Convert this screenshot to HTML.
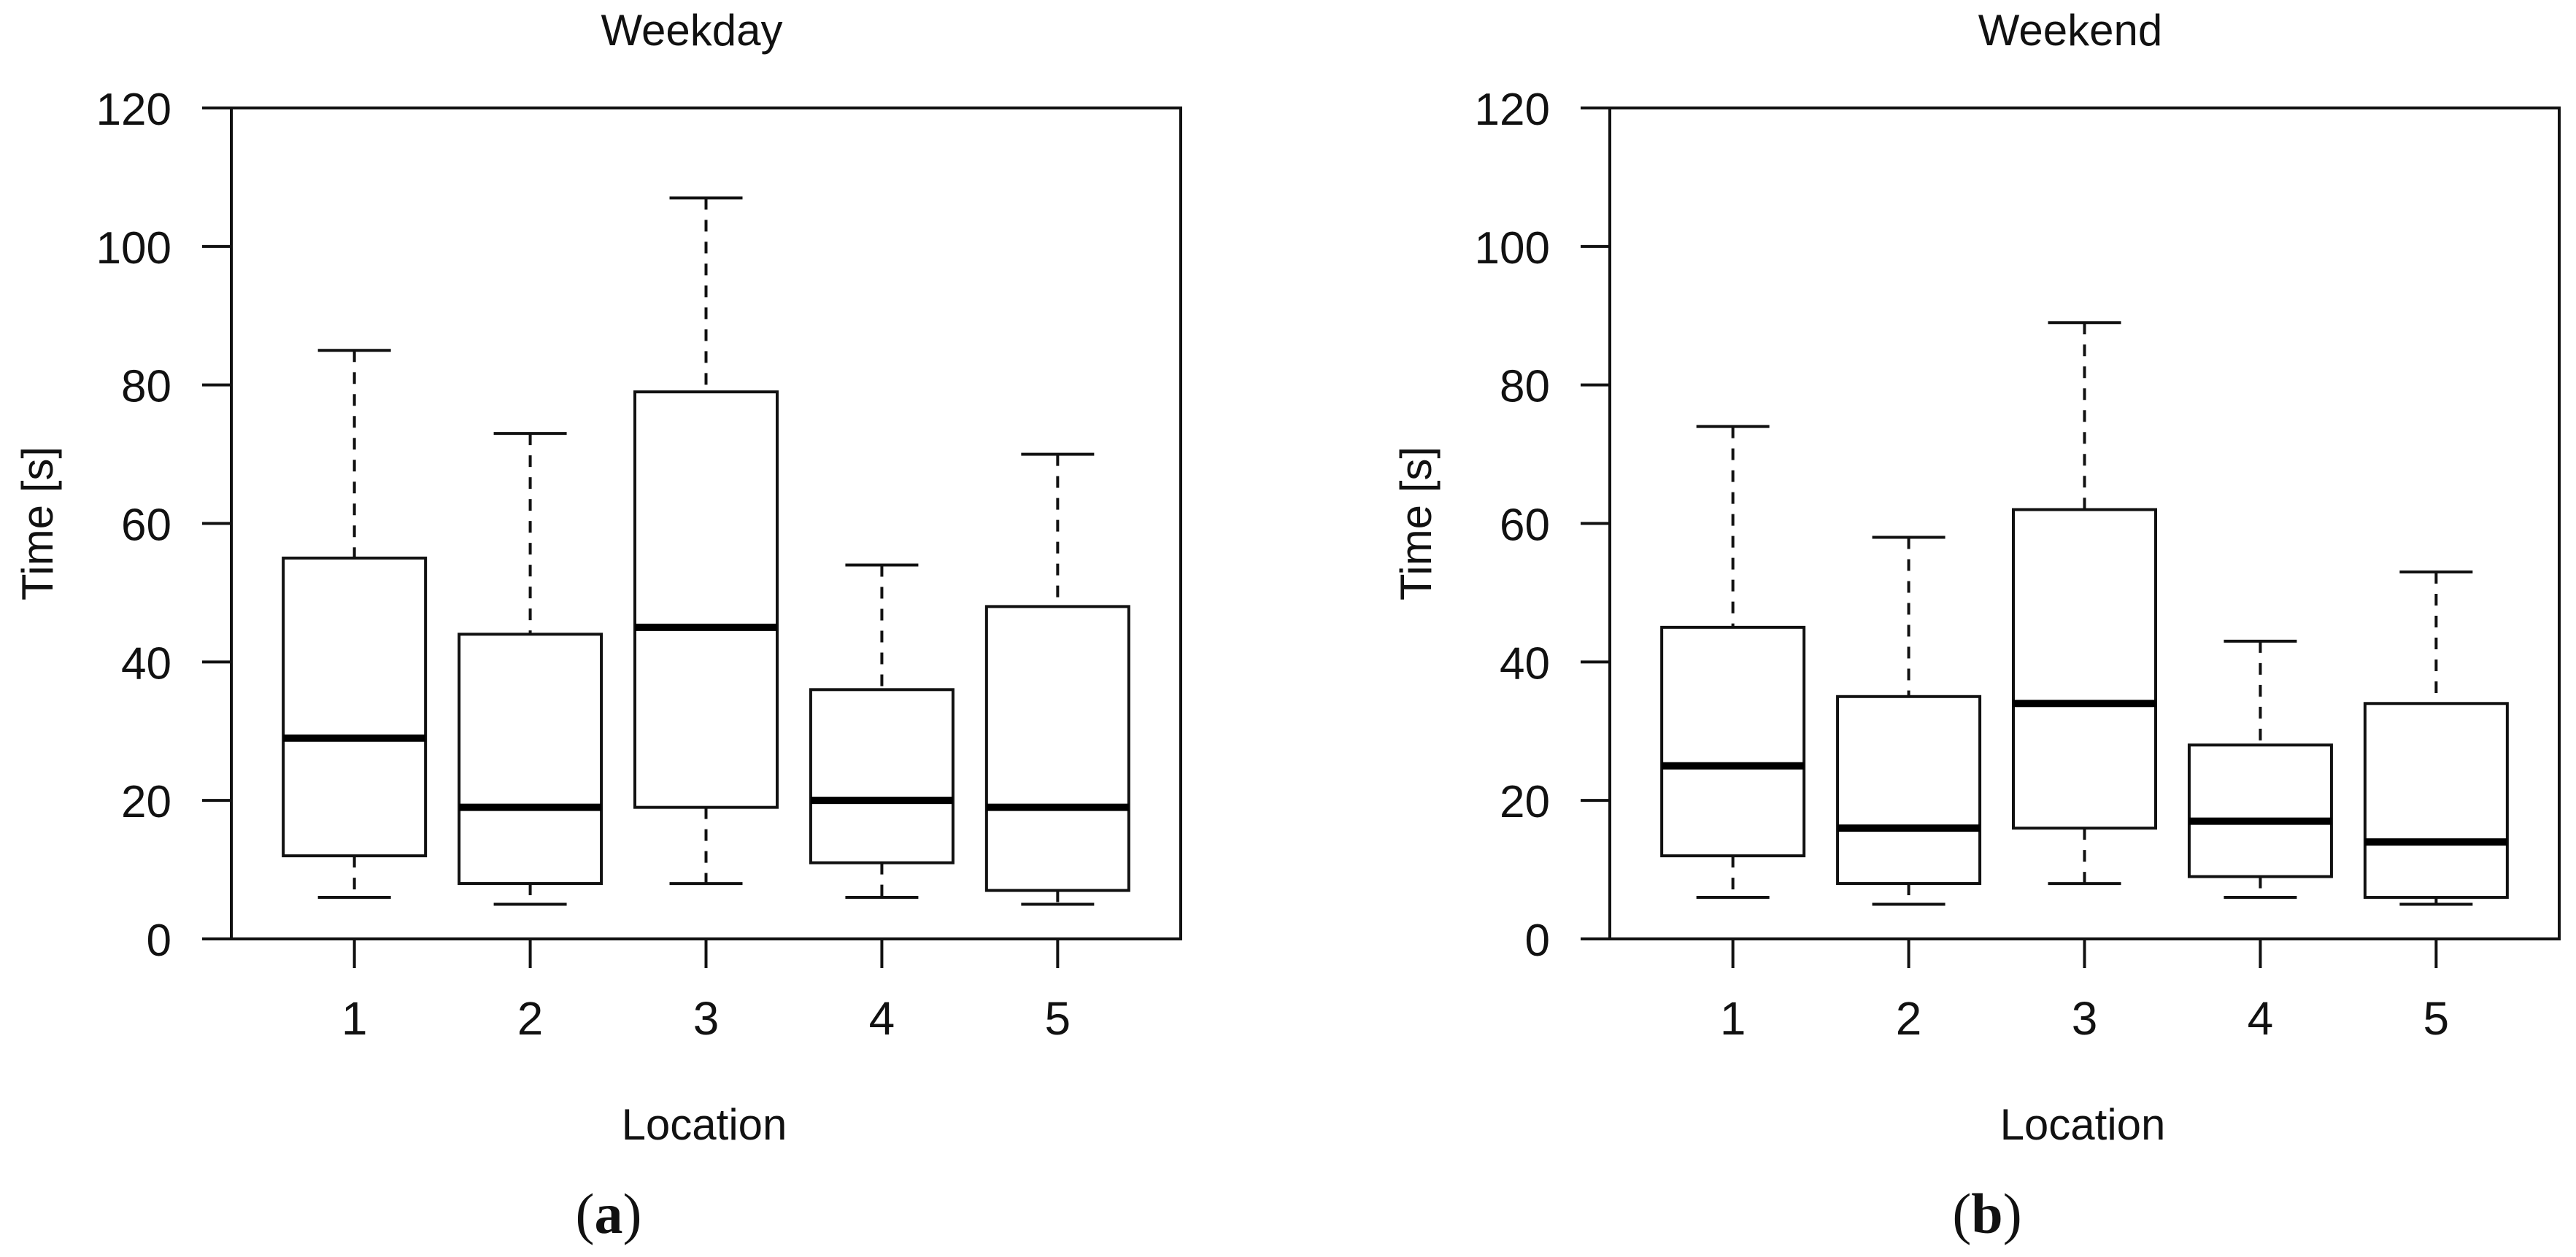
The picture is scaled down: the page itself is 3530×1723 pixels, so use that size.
<!DOCTYPE html>
<html><head><meta charset="utf-8"><style>
html,body{margin:0;padding:0;background:#fff}
svg{display:block}
text{font-family:"Liberation Sans",sans-serif;fill:#111}
</style></head><body>
<svg id="fig" width="3530" height="1723" viewBox="0 0 3530 1723" xmlns="http://www.w3.org/2000/svg"></svg>
<script>
const categories = ["1","2","3","4","5"];
const yTicks = [0,20,40,60,80,100,120];
const weekdayHigh = [85,73,107,54,70];
const weekdayQ3   = [55,44,79,36,48];
const weekdayMed  = [29,19,45,20,19];
const weekdayQ1   = [12,8,19,11,7];
const weekdayLow  = [6,5,8,6,5];
const weekendHigh = [74,58,89,43,53];
const weekendQ3   = [45,35,62,28,34];
const weekendMed  = [25,16,34,17,14];
const weekendQ1   = [12,8,16,9,6];
const weekendLow  = [6,5,8,6,5];

const NS="http://www.w3.org/2000/svg";
const svg=document.getElementById('fig');
function mk(tag,attrs,parent){const e=document.createElementNS(NS,tag);for(const k in attrs)e.setAttribute(k,attrs[k]);(parent||svg).appendChild(e);return e;}

function panel(left,title,tag,hi,q3,med,q1,lo){
  const right=left+1301, top=148, bottom=1287;
  const g=mk('g',{});
  
  
  const yS=v=>bottom-(v/120)*(bottom-top);
  const xS=i=>left+(i+1-0.3)*(1301/5.4);
  const t=mk('text',{x:left+631,y:62,'text-anchor':'middle','font-size':60},g);t.textContent=title;
  
  
  const fr=mk('rect',{x:left,y:top,width:1301,height:bottom-top,fill:'none',stroke:'#111','stroke-width':4},g);
  
  
  yTicks.forEach(v=>{
    const l=mk('line',{x1:left-40,x2:left,y1:yS(v),y2:yS(v),stroke:'#111','stroke-width':4},g);
    
    
    const tx=mk('text',{x:left-82,y:yS(v)+23,'text-anchor':'end','font-size':62},g);tx.textContent=v;
    
    
  });
  categories.forEach((c,i)=>{
    const x=xS(i);
    const l=mk('line',{x1:x,x2:x,y1:bottom,y2:bottom+40,stroke:'#111','stroke-width':4},g);
    
    
    const tx=mk('text',{x:x,y:1418,'text-anchor':'middle','font-size':64},g);tx.textContent=c;
    
    
    const bg=mk('g',{},g);
    
    
    mk('line',{x1:x,x2:x,y1:yS(hi[i]),y2:yS(q3[i]),stroke:'#111','stroke-width':4,'stroke-dasharray':'16 14'},bg);
    mk('line',{x1:x,x2:x,y1:yS(q1[i]),y2:yS(lo[i]),stroke:'#111','stroke-width':4,'stroke-dasharray':'16 14'},bg);
    mk('line',{x1:x-50,x2:x+50,y1:yS(hi[i]),y2:yS(hi[i]),stroke:'#111','stroke-width':4},bg);
    mk('line',{x1:x-50,x2:x+50,y1:yS(lo[i]),y2:yS(lo[i]),stroke:'#111','stroke-width':4},bg);
    mk('rect',{x:x-97.5,y:yS(q3[i]),width:195,height:yS(q1[i])-yS(q3[i]),fill:'#fff',stroke:'#111','stroke-width':4},bg);
    mk('line',{x1:x-97.5,x2:x+97.5,y1:yS(med[i]),y2:yS(med[i]),stroke:'#000','stroke-width':10},bg);
  });
  const xl=mk('text',{x:left+648,y:1562,'text-anchor':'middle','font-size':60},g);xl.textContent='Location';
  
  
  const yl=mk('text',{x:0,y:0,'text-anchor':'middle','font-size':60,transform:`translate(${left-245},${(top+bottom)/2}) rotate(-90)`},g);yl.textContent='Time [s]';
  
  
  const lb=mk('text',{x:left+517,y:1690,'text-anchor':'middle','font-size':78,style:'font-family:"Liberation Serif",serif'},g);
  lb.innerHTML='(<tspan font-weight="bold">'+tag+'</tspan>)';
  
  
}
panel(317,'Weekday','a',weekdayHigh,weekdayQ3,weekdayMed,weekdayQ1,weekdayLow);
panel(2206,'Weekend','b',weekendHigh,weekendQ3,weekendMed,weekendQ1,weekendLow);
</script>
</body></html>
